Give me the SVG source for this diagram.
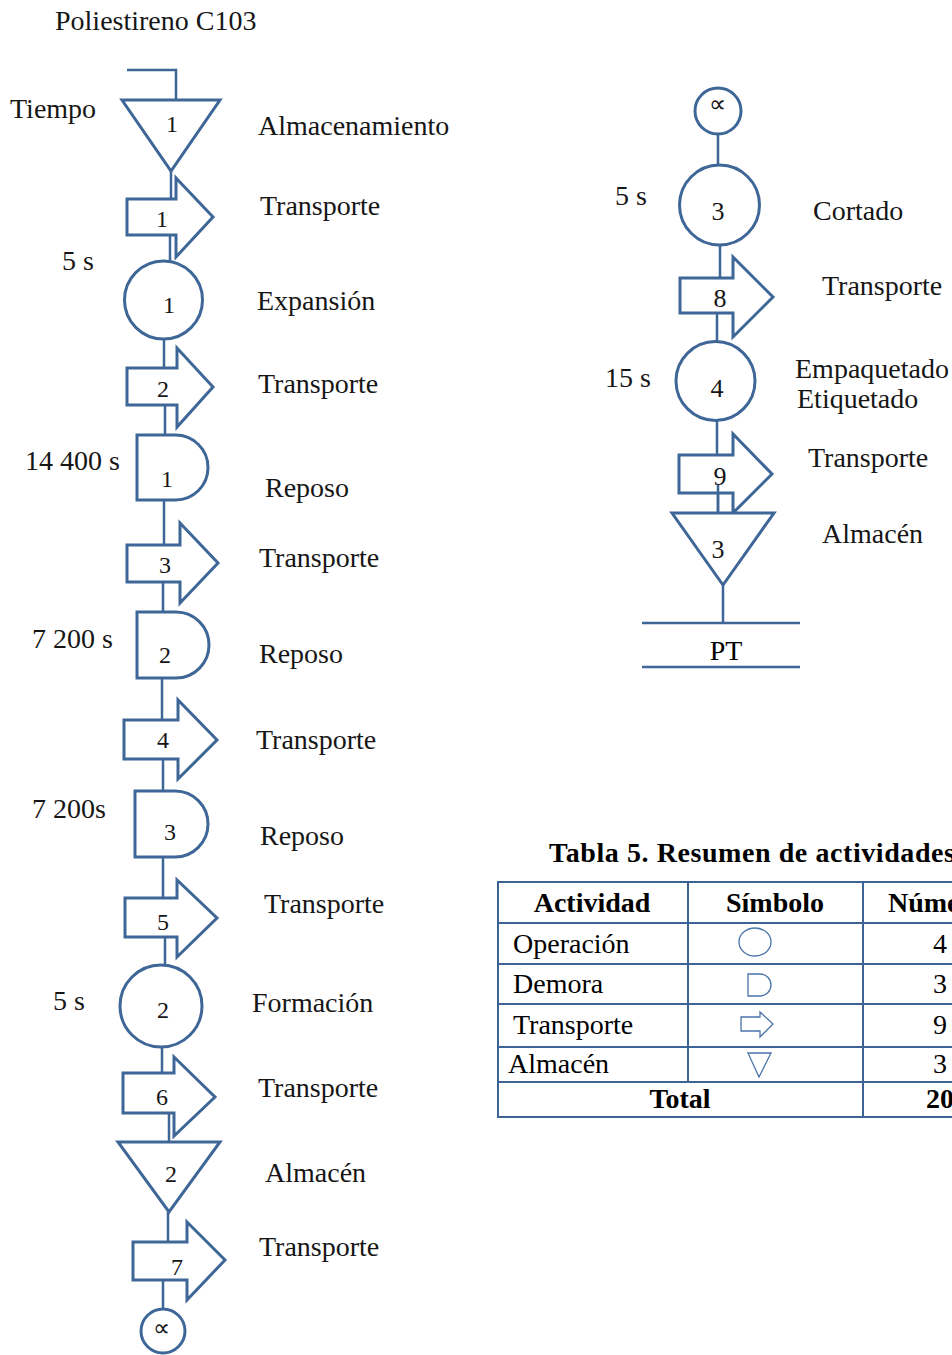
<svg xmlns="http://www.w3.org/2000/svg" width="952" height="1355" viewBox="0 0 952 1355">
<style>
.s{fill:#fff;stroke:#3e6697;stroke-width:3;stroke-linejoin:miter}
.c{stroke:#3e6697;stroke-width:2.5;fill:none}
.t{font-family:"Liberation Serif","Times New Roman",serif;fill:#161616}
.lb{font-size:28px}
.n{font-size:24px;text-anchor:middle}
.nr{font-size:26px;text-anchor:middle}
.tb{font-family:"Liberation Serif","Times New Roman",serif;font-size:28px;fill:#000}
.b{font-weight:bold}
.g{stroke:#3b6395;stroke-width:2;fill:none}
.sym{fill:#fff;stroke:#4a74aa;stroke-width:1.3}
</style>
<rect width="952" height="1355" fill="#fff"/>

<g id="connectors">
<polyline class="c" points="127,70 176,70 176,100"/>
<line class="c" x1="171" y1="171" x2="171" y2="199"/>
<line class="c" x1="170" y1="235" x2="170" y2="261"/>
<line class="c" x1="164" y1="339" x2="164" y2="368"/>
<line class="c" x1="165" y1="405" x2="165" y2="435"/>
<line class="c" x1="164" y1="500" x2="164" y2="545"/>
<line class="c" x1="163" y1="582" x2="163" y2="612"/>
<line class="c" x1="162" y1="678" x2="162" y2="720"/>
<line class="c" x1="163" y1="759" x2="163" y2="791"/>
<line class="c" x1="163" y1="857" x2="163" y2="898"/>
<line class="c" x1="165" y1="937" x2="165" y2="965"/>
<line class="c" x1="162" y1="1047" x2="162" y2="1073"/>
<line class="c" x1="169" y1="1113" x2="169" y2="1142"/>
<line class="c" x1="168" y1="1212" x2="168" y2="1242"/>
<line class="c" x1="163" y1="1280" x2="163" y2="1309"/>
<line class="c" x1="718" y1="134" x2="718" y2="165"/>
<line class="c" x1="720" y1="245" x2="720" y2="278"/>
<line class="c" x1="717" y1="313" x2="717" y2="342"/>
<line class="c" x1="717" y1="420" x2="717" y2="455"/>
<line class="c" x1="718" y1="485" x2="718" y2="513"/>
<line class="c" x1="723" y1="585" x2="723" y2="623" stroke-width="3"/>
</g>

<text class="t" x="55" y="30" font-size="28">Poliestireno C103</text>
<text class="t" x="10" y="118" font-size="28">Tiempo</text>

<g id="alm1"><path class="s" d="M122,100 L220,100 L171,171 Z"/><text class="t n" x="172" y="132">1</text></g>
<text class="t lb" x="258" y="135">Almacenamiento</text>

<g id="tr1"><path class="s" d="M127,199 L176,199 L176,178 L213,217 L176,257 L176,235 L127,235 Z"/><text class="t n" x="162" y="227">1</text></g>
<text class="t lb" x="260" y="215">Transporte</text>

<text class="t lb" x="62" y="270">5 s</text>
<g id="op1"><circle class="s" cx="163.5" cy="300" r="39"/><text class="t n" x="169" y="313">1</text></g>
<text class="t lb" x="257" y="310">Expansión</text>

<g id="tr2"><path class="s" d="M127,368 L177,368 L177,348 L213,387 L177,427 L177,405 L127,405 Z"/><text class="t n" x="163" y="397">2</text></g>
<text class="t lb" x="258" y="393">Transporte</text>

<text class="t lb" x="25" y="470">14 400 s</text>
<g id="dem1"><path class="s" d="M137,435 L175.5,435 A32.5,32.5 0 0 1 175.5,500 L137,500 Z"/><text class="t n" x="167" y="487">1</text></g>
<text class="t lb" x="265" y="497">Reposo</text>

<g id="tr3"><path class="s" d="M127,545 L180,545 L180,523 L218,563 L180,603 L180,582 L127,582 Z"/><text class="t n" x="165" y="573">3</text></g>
<text class="t lb" x="259" y="567">Transporte</text>

<text class="t lb" x="32" y="648">7 200 s</text>
<g id="dem2"><path class="s" d="M137,612 L176,612 A33,33 0 0 1 176,678 L137,678 Z"/><text class="t n" x="165" y="663">2</text></g>
<text class="t lb" x="259" y="663">Reposo</text>

<g id="tr4"><path class="s" d="M124,720 L178,720 L178,700 L217,740 L178,779 L178,759 L124,759 Z"/><text class="t n" x="163" y="748">4</text></g>
<text class="t lb" x="256" y="749">Transporte</text>

<text class="t lb" x="32" y="818">7 200s</text>
<g id="dem3"><path class="s" d="M135,791 L175,791 A33,33 0 0 1 175,857 L135,857 Z"/><text class="t n" x="170" y="840">3</text></g>
<text class="t lb" x="260" y="845">Reposo</text>

<g id="tr5"><path class="s" d="M125,898 L177,898 L177,880 L217,918 L177,957 L177,937 L125,937 Z"/><text class="t n" x="163" y="930">5</text></g>
<text class="t lb" x="264" y="913">Transporte</text>

<text class="t lb" x="53" y="1010">5 s</text>
<g id="op2"><circle class="s" cx="161" cy="1006" r="41"/><text class="t n" x="163" y="1018">2</text></g>
<text class="t lb" x="252" y="1012">Formación</text>

<g id="tr6"><path class="s" d="M123,1073 L174,1073 L174,1057 L215,1097 L174,1136 L174,1113 L123,1113 Z"/><text class="t n" x="162" y="1105">6</text></g>
<text class="t lb" x="258" y="1097">Transporte</text>

<g id="alm2"><path class="s" d="M118,1142 L220,1142 L169,1212 Z"/><text class="t n" x="171" y="1182" font-size="26">2</text></g>
<text class="t lb" x="265" y="1182">Almacén</text>

<g id="tr7"><path class="s" d="M133,1242 L187,1242 L187,1222 L225,1260 L187,1300 L187,1280 L133,1280 Z"/><text class="t n" x="177" y="1275">7</text></g>
<text class="t lb" x="259" y="1256">Transporte</text>

<g id="con1"><circle class="s" cx="163" cy="1331" r="22"/><text class="t n" x="161" y="1336" font-size="28">∝</text></g>

<g id="con2"><circle class="s" cx="718" cy="111" r="23"/><text class="t n" x="717" y="112" font-size="28">∝</text></g>

<text class="t lb" x="615" y="205">5 s</text>
<g id="op3"><circle class="s" cx="719.5" cy="205" r="40"/><text class="t nr" x="718" y="220">3</text></g>
<text class="t lb" x="813" y="220">Cortado</text>

<g id="tr8"><path class="s" d="M680,278 L733,278 L733,257 L773,297 L733,337 L733,313 L680,313 Z"/><text class="t nr" x="720" y="307">8</text></g>
<text class="t lb" x="822" y="295">Transporte</text>

<text class="t lb" x="605" y="387">15 s</text>
<g id="op4"><circle class="s" cx="715.5" cy="381" r="39.5"/><text class="t nr" x="717" y="397">4</text></g>
<text class="t lb" x="795" y="378">Empaquetado</text>
<text class="t lb" x="797" y="408">Etiquetado</text>

<g id="tr9"><path class="s" d="M679,455 L733,455 L733,434 L772,474 L733,513 L733,493 L679,493 Z"/><text class="t nr" x="720" y="485">9</text></g>
<line class="c" x1="718" y1="485" x2="718" y2="513"/>
<text class="t lb" x="808" y="467">Transporte</text>

<g id="alm3"><path class="s" d="M672,513 L774,513 L723,585 Z"/><text class="t nr" x="718" y="558">3</text></g>
<text class="t lb" x="822" y="543">Almacén</text>

<g id="pt">
<line class="c" x1="642" y1="623" x2="800" y2="623" stroke-width="3"/>
<line class="c" x1="642" y1="667" x2="800" y2="667" stroke-width="3"/>
<text class="tb" x="726" y="660" text-anchor="middle">PT</text>
</g>

<g id="tabla">
<text class="tb b" x="549" y="862" textLength="406">Tabla 5. Resumen de actividades</text>
<line class="g" x1="497" y1="882" x2="952" y2="882"/>
<line class="g" x1="497" y1="923" x2="952" y2="923"/>
<line class="g" x1="497" y1="964" x2="952" y2="964"/>
<line class="g" x1="497" y1="1004" x2="952" y2="1004"/>
<line class="g" x1="497" y1="1047" x2="952" y2="1047"/>
<line class="g" x1="497" y1="1082" x2="952" y2="1082"/>
<line class="g" x1="497" y1="1117" x2="952" y2="1117"/>
<line class="g" x1="498" y1="881" x2="498" y2="1118"/>
<line class="g" x1="688" y1="882" x2="688" y2="1082"/>
<line class="g" x1="863" y1="882" x2="863" y2="1117"/>
<text class="tb b" x="592" y="912" text-anchor="middle">Actividad</text>
<text class="tb b" x="775" y="912" text-anchor="middle">Símbolo</text>
<text class="tb b" x="888" y="912">Número</text>
<text class="tb" x="513" y="953">Operación</text>
<text class="tb" x="513" y="993">Demora</text>
<text class="tb" x="513" y="1034">Transporte</text>
<text class="tb" x="508" y="1073">Almacén</text>
<text class="tb b" x="680" y="1108" text-anchor="middle">Total</text>
<text class="tb" x="940" y="953" text-anchor="middle">4</text>
<text class="tb" x="940" y="993" text-anchor="middle">3</text>
<text class="tb" x="940" y="1034" text-anchor="middle">9</text>
<text class="tb" x="940" y="1073" text-anchor="middle">3</text>
<text class="tb b" x="926" y="1108">20</text>
<ellipse class="sym" cx="755" cy="942" rx="16" ry="14"/>
<path class="sym" d="M748,974 L760,974 A11,11 0 0 1 760,996 L748,996 Z"/>
<path class="sym" d="M741,1017 L760,1017 L760,1012 L773,1024 L760,1037 L760,1031 L741,1031 Z"/>
<path class="sym" d="M748,1053 L771,1053 L759,1077 Z"/>
</g>
</svg>
